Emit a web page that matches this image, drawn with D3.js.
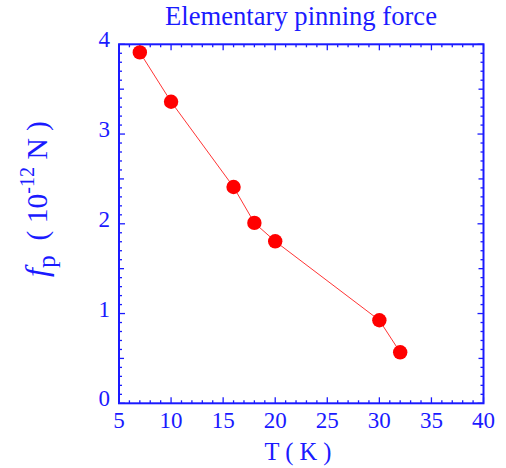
<!DOCTYPE html>
<html><head><meta charset="utf-8">
<script src="https://cdn.jsdelivr.net/npm/d3@7"></script>
<style>body{margin:0;background:#fff}svg{display:block}</style>
</head><body>
<svg id="c" width="506" height="468"></svg>
<script>
const temps = [7, 10, 16, 18, 20, 30, 32];
const forces = [3.91, 3.36, 2.41, 2.01, 1.805, 0.925, 0.568];
const xTicks = [5, 10, 15, 20, 25, 30, 35, 40];
const yTicks = [0, 1, 2, 3, 4];
const title = "Elementary pinning force";

const blue = "#1a1aff", red = "#ff0000";
const font = "'Liberation Serif', 'Times New Roman', serif";
const svg = d3.select("#c");
const L = 119, R = 483.5, T = 44.3, B = 403.3;
const x = d3.scaleLinear().domain([5, 40]).range([L, R]);
const y = d3.scaleLinear().domain([0, 4]).range([B, T]);

const g = svg.append("g");
const xMinor = d3.range(5, 40.01, 1);
const yMinor = d3.range(0, 4.001, 0.1);
function xLen(v){ return Math.abs(v % 5) < 1e-6 ? 6 : 3; }
function yLen(v){ const r = Math.round(v*10); return r % 10 === 0 ? 6 : (r % 5 === 0 ? 5 : 3); }
xMinor.forEach(v => {
  g.append("line").attr("x1", x(v)).attr("x2", x(v)).attr("y1", B).attr("y2", B - xLen(v)).attr("stroke", blue).attr("stroke-width", 1.3);
  g.append("line").attr("x1", x(v)).attr("x2", x(v)).attr("y1", T).attr("y2", T + xLen(v)).attr("stroke", blue).attr("stroke-width", 1.3);
});
yMinor.forEach(v => {
  g.append("line").attr("y1", y(v)).attr("y2", y(v)).attr("x1", L).attr("x2", L + yLen(v)).attr("stroke", blue).attr("stroke-width", 1.3);
  g.append("line").attr("y1", y(v)).attr("y2", y(v)).attr("x1", R).attr("x2", R - yLen(v)).attr("stroke", blue).attr("stroke-width", 1.3);
});
g.append("rect").attr("x", L).attr("y", T).attr("width", R - L).attr("height", B - T)
  .attr("fill", "none").attr("stroke", blue).attr("stroke-width", 2);

// tick labels
xTicks.forEach(v => {
  svg.append("text").attr("x", x(v)).attr("y", B + 24.7).attr("text-anchor", "middle")
    .attr("font-family", font).attr("font-size", 23).attr("fill", blue).text(v);
});
yTicks.forEach(v => {
  svg.append("text").attr("x", L - 9).attr("y", y(v) + 3).attr("text-anchor", "end")
    .attr("font-family", font).attr("font-size", 23).attr("fill", blue).text(v);
});

// line + points
const pts = temps.map((t, i) => [t, forces[i]]);
svg.append("path").datum(pts)
  .attr("d", d3.line().x(d => x(d[0])).y(d => y(d[1])))
  .attr("fill", "none").attr("stroke", red).attr("stroke-width", 0.8);
svg.selectAll("circle.p").data(pts).join("circle")
  .attr("cx", d => x(d[0])).attr("cy", d => y(d[1])).attr("r", 7.2).attr("fill", red);

// title (fit to reference width)
const tt = svg.append("text").attr("x", 301).attr("y", 25).attr("text-anchor", "middle")
  .attr("font-family", font).attr("font-size", 20).attr("fill", blue).text(title);
const tw = tt.node().getComputedTextLength();
tt.attr("font-size", 20 * 272 / tw);

// x label
const xl = svg.append("text").attr("x", 298).attr("y", 460).attr("text-anchor", "middle")
  .attr("font-family", font).attr("font-size", 22).attr("fill", blue).text("T ( K )");
const xw = xl.node().getComputedTextLength();
xl.attr("font-size", Math.min(25, 22 * 67 / xw));

// y label
const yl = svg.append("text").attr("transform", "translate(46.5,199) rotate(-90)")
  .attr("text-anchor", "middle").attr("font-family", font).attr("font-size", 22).attr("fill", blue);
yl.append("tspan").attr("font-style", "italic").attr("font-size", 24).text("f");
yl.append("tspan").attr("dy", 6).attr("font-size", 19).text("p");
yl.append("tspan").attr("dy", -6).text("\u2002( 10");
yl.append("tspan").attr("dy", -9).attr("font-size", 15).text("-12");
yl.append("tspan").attr("dy", 9).text(" N )");
const yw = yl.node().getBBox().width;
yl.attr("transform", "translate(46.5,199) rotate(-90) scale(" + (156 / yw) + ")");
</script>
</body></html>
